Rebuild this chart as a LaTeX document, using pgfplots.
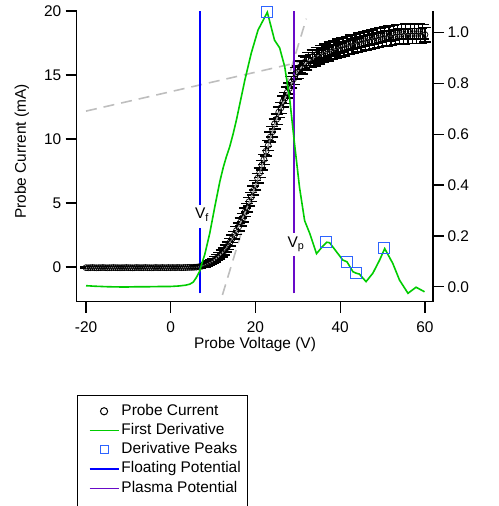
\documentclass[border=0pt]{standalone}
\usepackage{pgfplots}
\usepackage{pgfplotstable}
\pgfplotsset{compat=1.18}
\usepackage{fontspec}
\setmainfont{Liberation Sans}
\definecolor{dgreen}{RGB}{0,204,0}
\definecolor{pblue}{RGB}{0,0,255}
\definecolor{ppurple}{RGB}{104,10,200}
\definecolor{sqblue}{RGB}{45,100,255}
\definecolor{dashgray}{RGB}{190,190,190}
\definecolor{fitgray}{RGB}{170,170,170}

\pgfplotstableread{
x y e
-20.0 -0.05 0.05
-19.5 -0.06 0.05
-19.0 -0.05 0.05
-18.5 -0.04 0.05
-18.0 -0.05 0.05
-17.5 -0.06 0.05
-17.0 -0.05 0.05
-16.5 -0.05 0.05
-16.0 -0.04 0.05
-15.5 -0.05 0.05
-15.0 -0.06 0.05
-14.5 -0.05 0.05
-14.0 -0.05 0.05
-13.5 -0.04 0.05
-13.0 -0.05 0.05
-12.5 -0.05 0.05
-12.0 -0.06 0.05
-11.5 -0.05 0.05
-11.0 -0.05 0.05
-10.5 -0.04 0.05
-10.0 -0.05 0.05
-9.5 -0.05 0.05
-9.0 -0.06 0.05
-8.5 -0.05 0.05
-8.0 -0.04 0.05
-7.5 -0.05 0.05
-7.0 -0.05 0.05
-6.5 -0.05 0.05
-6.0 -0.04 0.05
-5.5 -0.05 0.05
-5.0 -0.05 0.05
-4.5 -0.06 0.05
-4.0 -0.05 0.05
-3.5 -0.04 0.05
-3.0 -0.05 0.05
-2.5 -0.05 0.05
-2.0 -0.04 0.05
-1.5 -0.05 0.05
-1.0 -0.05 0.05
-0.5 -0.04 0.05
0.0 -0.05 0.05
0.5 -0.04 0.05
1.0 -0.05 0.05
1.5 -0.04 0.05
2.0 -0.04 0.05
2.5 -0.05 0.05
3.0 -0.04 0.05
3.5 -0.04 0.05
4.0 -0.03 0.05
4.5 -0.03 0.05
5.0 -0.03 0.06
5.5 -0.02 0.06
6.0 -0.01 0.08
6.5 0.01 0.10
7.0 0.04 0.10
7.5 0.08 0.12
8.0 0.14 0.14
8.5 0.21 0.16
9.0 0.29 0.18
9.5 0.38 0.20
10.0 0.48 0.20
10.5 0.60 0.22
11.0 0.74 0.24
11.5 0.88 0.25
12.0 1.05 0.26
12.5 1.22 0.27
13.0 1.45 0.28
13.5 1.66 0.29
14.0 1.93 0.30
14.5 2.22 0.30
15.0 2.48 0.31
15.5 2.84 0.31
16.0 3.13 0.32
16.5 3.52 0.32
17.0 3.85 0.33
17.5 4.28 0.33
18.0 4.62 0.34
18.5 5.10 0.34
19.0 5.46 0.35
19.5 5.98 0.35
20.0 6.38 0.36
20.5 6.94 0.36
21.0 7.36 0.37
21.5 7.96 0.37
22.0 8.40 0.38
22.5 9.05 0.38
23.0 9.50 0.39
23.5 10.15 0.39
24.0 10.57 0.40
24.5 11.18 0.40
25.0 11.55 0.41
25.5 12.10 0.41
26.0 12.43 0.42
26.5 12.93 0.42
27.0 13.20 0.43
27.5 13.65 0.43
28.0 13.95 0.44
28.5 14.45 0.45
29.0 14.70 0.46
29.5 15.12 0.47
30.0 15.22 0.48
30.5 15.62 0.48
31.0 15.55 0.49
31.5 15.98 0.50
32.0 15.88 0.50
32.5 16.25 0.51
33.0 16.08 0.51
33.5 16.45 0.52
34.0 16.22 0.52
34.5 16.62 0.52
35.0 16.40 0.53
35.5 16.78 0.53
36.0 16.52 0.53
36.5 16.90 0.54
37.0 16.65 0.54
37.5 17.02 0.54
38.0 16.78 0.54
38.5 17.12 0.55
39.0 16.85 0.55
39.5 17.25 0.55
40.0 16.95 0.55
40.5 17.35 0.55
41.0 17.05 0.55
41.5 17.45 0.55
42.0 17.15 0.56
42.5 17.55 0.56
43.0 17.25 0.56
43.5 17.62 0.56
44.0 17.35 0.56
44.5 17.72 0.56
45.0 17.42 0.57
45.5 17.80 0.57
46.0 17.52 0.57
46.5 17.88 0.57
47.0 17.58 0.57
47.5 17.95 0.57
48.0 17.65 0.58
48.5 18.05 0.58
49.0 17.72 0.58
49.5 18.10 0.58
50.0 17.80 0.58
50.5 18.18 0.58
51.0 17.85 0.58
51.5 18.25 0.58
52.0 17.90 0.58
52.5 18.30 0.58
53.0 17.95 0.58
53.5 18.35 0.58
54.0 18.00 0.58
54.5 18.38 0.58
55.0 18.02 0.58
55.5 18.40 0.58
56.0 18.05 0.58
56.5 18.42 0.58
57.0 18.05 0.58
57.5 18.42 0.58
58.0 18.05 0.58
58.5 18.40 0.58
59.0 18.05 0.58
59.5 18.38 0.58
60.0 18.15 0.58
}\currentdata

\pgfplotstableread{
x y
-20 -0.05
-10 -0.05
0 -0.04
4 -0.04
5 -0.03
6 -0.01
7 0.04
8 0.14
9 0.29
10 0.48
11 0.74
12 1.05
13 1.45
14 1.93
15 2.48
16 3.13
17 3.85
18 4.62
19 5.46
20 6.38
21 7.36
22 8.40
23 9.50
24 10.57
25 11.55
26 12.43
27 13.20
28 13.95
29 14.70
30 15.30
31 15.65
32 15.95
33 16.18
34 16.38
35 16.55
36 16.70
37 16.83
38 16.95
39 17.05
40 17.15
41 17.25
42 17.35
43 17.43
44 17.52
45 17.60
46 17.68
47 17.76
48 17.84
49 17.90
50 17.97
51 18.03
52 18.08
53 18.13
54 18.17
55 18.20
56 18.22
57 18.24
58 18.24
59 18.23
60 18.22
}\fitdata

\pgfplotstableread{
x d
-20 0.004
-18 0.002
-15 0.000
-12 -0.001
-10 -0.001
-8 0.000
-5 0.000
-2 0.001
0 0.001
2 0.003
3.5 0.006
4.5 0.010
5.3 0.018
6.0 0.035
6.8 0.060
7.5 0.100
8.0 0.125
9.2 0.210
10.4 0.315
11.6 0.415
12.4 0.470
13.1 0.510
13.9 0.550
14.7 0.600
15.5 0.656
17.5 0.814
19.0 0.919
20.6 1.010
22.8 1.080
24.5 0.970
25.7 0.940
26.9 0.866
28.1 0.735
29.2 0.565
30.4 0.390
31.6 0.260
32.8 0.210
34.4 0.130
35.9 0.160
36.8 0.175
37.5 0.173
39.1 0.138
40.6 0.105
41.6 0.098
43.0 0.059
43.8 0.053
44.5 0.050
46.1 0.020
47.7 0.053
49.3 0.105
50.5 0.150
52.4 0.092
54.0 0.026
56.0 -0.026
57.9 -0.002
59.9 -0.020
}\derivdata

\pgfplotsset{
  commonaxis/.style={
    scale only axis, width=356.3bp, height=290.7bp,
    at={(0,0)}, anchor=south west,
    xmin=-22.2, xmax=61.9,
    tick align=outside, major tick length=11bp,
    every tick/.style={black, line width=1.4bp},
    axis line style={line width=1.4bp},
    tick label style={font=\fontsize{15.5}{18}\selectfont},
    label style={font=\fontsize{15.5}{18}\selectfont},
    /pgf/number format/assume math mode=true,
  },
  linelegend/.style={legend image code/.code={\draw[##1, draw opacity=0] (0bp,0bp) -- (6bp,0bp);\draw[##1] (6bp,0bp) -- (35bp,0bp);}},
  circlegend/.style={legend image code/.code={\draw[white, draw opacity=0] (0bp,0bp) -- (35bp,0bp);\draw[black, line width=1bp] plot[mark=o, mark size=3.6bp] coordinates {(20.5bp,0bp)};}},
  sqlegend/.style={legend image code/.code={\draw[white, draw opacity=0] (0bp,0bp) -- (35bp,0bp);\draw[sqblue, line width=1bp] plot[mark=square, mark size=4bp, mark options={sqblue}] coordinates {(20.5bp,0bp)};}},
}

\begin{document}
\begin{tikzpicture}
\begin{axis}[commonaxis,
  ymin=-2.71, ymax=20,
  axis x line*=bottom, axis y line*=left,
  xtick={-20,0,20,40,60}, ytick={0,5,10,15,20},
  xticklabel style={anchor=base, yshift=-20bp},
  yticklabel style={xshift=-1bp},
  xlabel={Probe Voltage (V)}, ylabel={Probe Current (mA)},
  xlabel style={at={(axis description cs:0.5004,-0.1593)}, anchor=base},
  ylabel style={at={(axis description cs:-0.1423,0.5167)}, anchor=base, rotate=0},
]
\addplot[dashgray, line width=1.6bp, dash pattern=on 11bp off 7bp] coordinates {(-20,12.18) (32,16.13)};
\addplot[dashgray, line width=1.6bp, dash pattern=on 11bp off 7bp] coordinates {(12.2,-2.18) (32,19.4)};
\addplot[black, only marks, mark=o, mark size=3bp, mark options={line width=0.7bp},
  error bars/.cd, y dir=both, y explicit,
  error bar style={line width=1.2bp, black},
  error mark options={black, rotate=90, line width=1.5bp, mark size=6bp}]
  table[x=x, y=y, y error=e] {\currentdata};
\addplot[fitgray, line width=1.5bp, smooth] table[x=x, y=y] {\fitdata};
\addplot[pblue, line width=1.6bp] coordinates {(6.9,-2.05) (6.9,20)};
\addplot[ppurple, line width=1.6bp] coordinates {(29.1,-2.05) (29.1,20)};
\node[fill=white, inner xsep=0bp, inner ysep=0bp, text height=14bp, text depth=9bp, xshift=2bp,
  font=\fontsize{15.5}{18}\selectfont] at (axis cs:6.9,3.95) {V\textsubscript{f}};
\node[fill=white, inner xsep=0bp, inner ysep=0bp, text height=14bp, text depth=9bp, xshift=2bp,
  font=\fontsize{15.5}{18}\selectfont] at (axis cs:29.1,1.75) {V\textsubscript{p}};
\end{axis}

\begin{axis}[commonaxis,
  ymin=-0.059, ymax=1.085,
  axis x line=none, axis y line*=right,
  ytick={0,0.2,0.4,0.6,0.8,1.0},
  yticklabel style={/pgf/number format/.cd, fixed, fixed zerofill, precision=1},
  legend style={at={(axis description cs:0.001,-0.321)}, anchor=north west,
    draw=black, line width=1.2bp, fill=white,
    inner xsep=5bp, inner ysep=6bp, row sep=0bp,
    font=\fontsize{15.5}{18}\selectfont,
    nodes={inner xsep=2bp, inner ysep=2.4bp, text height=11bp, text depth=3.5bp},
    /tikz/every even column/.style={column sep=5.2bp}},
  legend cell align=left,
]
\addplot[dgreen, line width=1.6bp, forget plot] table[x=x, y=d] {\derivdata};
\addplot[sqblue, only marks, mark=square, mark size=5.5bp, mark options={sqblue, line width=1bp}, forget plot]
  coordinates {(22.8,1.083) (36.6,0.177) (41.5,0.098) (43.8,0.053) (50.3,0.151)};
\node[rotate=-90, anchor=base, font=\fontsize{15.5}{18}\selectfont] at (axis description cs:1.157,0.5115) {dI/dV (mV/A)};
\addlegendimage{circlegend}
\addlegendentry{Probe Current}
\addlegendimage{dgreen, line width=1.8bp, linelegend}
\addlegendentry{First Derivative}
\addlegendimage{sqlegend}
\addlegendentry{Derivative Peaks}
\addlegendimage{pblue, line width=1.8bp, linelegend}
\addlegendentry{Floating Potential}
\addlegendimage{ppurple, line width=1.8bp, linelegend}
\addlegendentry{Plasma Potential}
\addlegendimage{empty legend}
\addlegendentry{}
\end{axis}
\pgfresetboundingbox
\path[use as bounding box] (-76.7bp,-204.3bp) rectangle (422.3bp,301.7bp);
\end{tikzpicture}
\end{document}
